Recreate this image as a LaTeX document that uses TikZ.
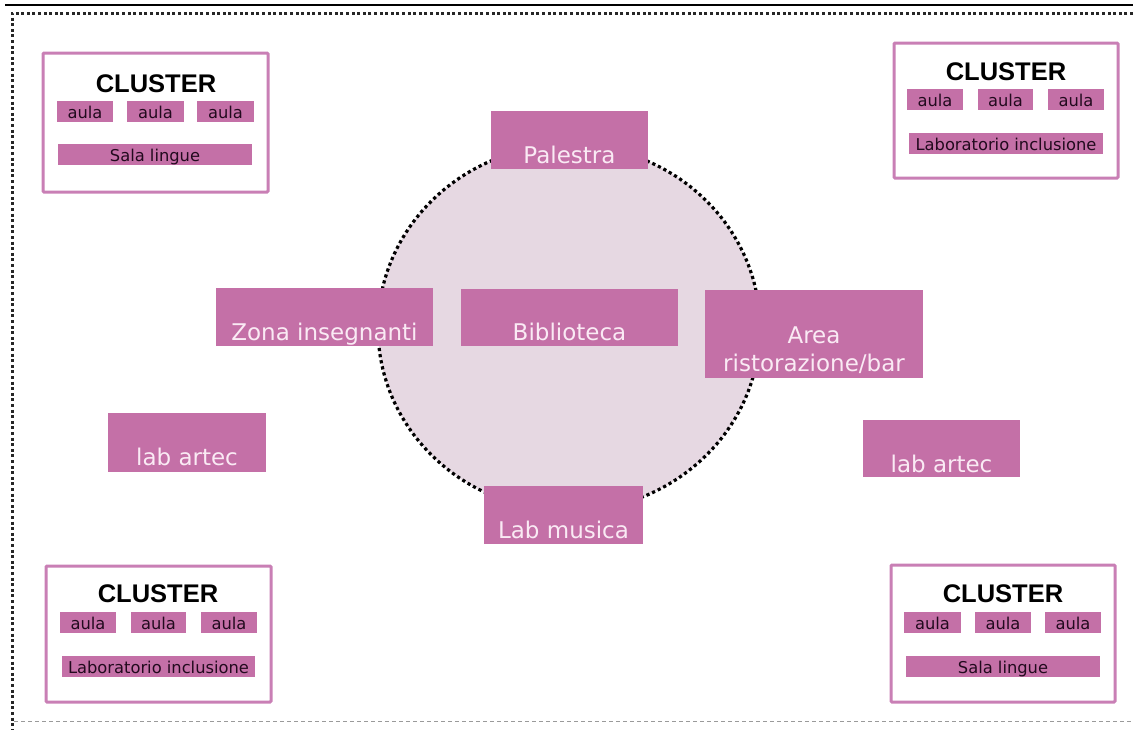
\documentclass[tikz,border=0pt]{standalone}
\usepackage{fontspec}
\setmainfont{DejaVu Sans}
\newfontfamily\headfont{Liberation Sans}
\usetikzlibrary{shapes.geometric}
\definecolor{roompink}{HTML}{C470A7}
\definecolor{framepink}{HTML}{C97FB5}
\definecolor{hubfill}{HTML}{E6D8E2}
\definecolor{labelwhite}{HTML}{FAEAF4}
\definecolor{labeldark}{HTML}{220A1E}
\definecolor{edgegrey}{HTML}{9A9A9A}
\begin{document}
\begin{tikzpicture}[x=1pt,y=-1pt,
  room/.style={fill=roompink, draw=none, inner sep=0pt, outer sep=0pt},
  bigtext/.style={text=labelwhite, font=\fontsize{23}{27}\selectfont, inner sep=0pt, anchor=base},
  subroom/.style={room, text=labeldark, font=\fontsize{16.3}{18}\selectfont,
    text height=17.5pt, text depth=3.5pt},
  cluster/.style={draw=framepink, line width=3pt, fill=white, inner sep=0pt, rounded corners=1pt},
  clustertitle/.style={font=\headfont\bfseries\fontsize{25.5}{28}\selectfont, text=black, inner sep=0pt, anchor=base},
  hub/.style={ellipse, fill=hubfill, draw=black, line width=3.2pt, dash pattern=on 3.2pt off 3pt, inner sep=0pt}
]
\useasboundingbox (0,0) rectangle (1133,729);

% page frame
\coordinate (tl) at (5,5);
\coordinate (tr) at (1133,5);
\coordinate (dl) at (12,13);
\coordinate (dr) at (1133,13);
\coordinate (bl) at (12,729);
\coordinate (gl) at (14,721);
\coordinate (gr) at (1133,721);
\draw[line width=1.4pt, black] (tl) -- (tr);
\draw[line width=3pt, black!85, dash pattern=on 3pt off 2.6pt] (dr) -- (dl) -- (bl);
\draw[line width=0.9pt, edgegrey, dash pattern=on 4pt off 3pt] (gl) -- (gr);

% central common space
\node[hub, minimum width=382, minimum height=366] (hub) at (569,328) {};

% rooms around and inside the common space
\node[room, minimum width=157, minimum height=58] (pal) at (569.5,140) {};
\node[bigtext] (palT) at (569.5,163) {Palestra};

\node[room, minimum width=217, minimum height=58] (zona) at (324.5,317) {};
\node[bigtext] (zonaT) at (324.5,340) {Zona insegnanti};

\node[room, minimum width=217, minimum height=57] (bib) at (569.5,317.5) {};
\node[bigtext] (bibT) at (569.5,340) {Biblioteca};

\node[room, minimum width=218, minimum height=88] (area) at (814,334) {};
\node[bigtext] (areaT1) at (814,343) {Area};
\node[bigtext] (areaT2) at (814,371) {ristorazione/bar};

\node[room, minimum width=158, minimum height=59] (artecL) at (187,442.5) {};
\node[bigtext] (artecLT) at (187,465) {lab artec};

\node[room, minimum width=157, minimum height=57] (artecR) at (941.5,448.5) {};
\node[bigtext] (artecRT) at (941.5,472) {lab artec};

\node[room, minimum width=159, minimum height=58] (mus) at (563.5,515) {};
\node[bigtext] (musT) at (563.5,538) {Lab musica};

% cluster top left
\node[cluster, minimum width=225, minimum height=139] (c1) at (155.5,122.5) {};
\node[clustertitle] (c1T) at (156,92.5) {CLUSTER};
\node[subroom, minimum width=56, minimum height=21] (c1a) at (85,111.5) {aula};
\node[subroom, minimum width=57, minimum height=21] (c1b) at (155.5,111.5) {aula};
\node[subroom, minimum width=57, minimum height=21] (c1c) at (225.5,111.5) {aula};
\node[subroom, minimum width=194, minimum height=21] (c1d) at (155,154.5) {Sala lingue};

% cluster top right
\node[cluster, minimum width=224, minimum height=135] (c2) at (1006,110.5) {};
\node[clustertitle] (c2T) at (1006,80) {CLUSTER};
\node[subroom, minimum width=56, minimum height=21] (c2a) at (935,99.5) {aula};
\node[subroom, minimum width=55, minimum height=21] (c2b) at (1005.5,99.5) {aula};
\node[subroom, minimum width=56, minimum height=21] (c2c) at (1076,99.5) {aula};
\node[subroom, minimum width=194, minimum height=21] (c2d) at (1006,143) {Laboratorio inclusione};

% cluster bottom left
\node[cluster, minimum width=225, minimum height=136] (c3) at (158.5,634) {};
\node[clustertitle] (c3T) at (158,602) {CLUSTER};
\node[subroom, minimum width=56, minimum height=21] (c3a) at (88,622.5) {aula};
\node[subroom, minimum width=55, minimum height=21] (c3b) at (158.5,622.5) {aula};
\node[subroom, minimum width=56, minimum height=21] (c3c) at (229,622.5) {aula};
\node[subroom, minimum width=193, minimum height=21] (c3d) at (158.5,666) {Laboratorio inclusione};

% cluster bottom right
\node[cluster, minimum width=224, minimum height=137] (c4) at (1003,633.5) {};
\node[clustertitle] (c4T) at (1003,602) {CLUSTER};
\node[subroom, minimum width=57, minimum height=21] (c4a) at (932.5,622) {aula};
\node[subroom, minimum width=56, minimum height=21] (c4b) at (1003,622) {aula};
\node[subroom, minimum width=56, minimum height=21] (c4c) at (1073,622) {aula};
\node[subroom, minimum width=194, minimum height=21] (c4d) at (1003,666) {Sala lingue};
\end{tikzpicture}
\end{document}
